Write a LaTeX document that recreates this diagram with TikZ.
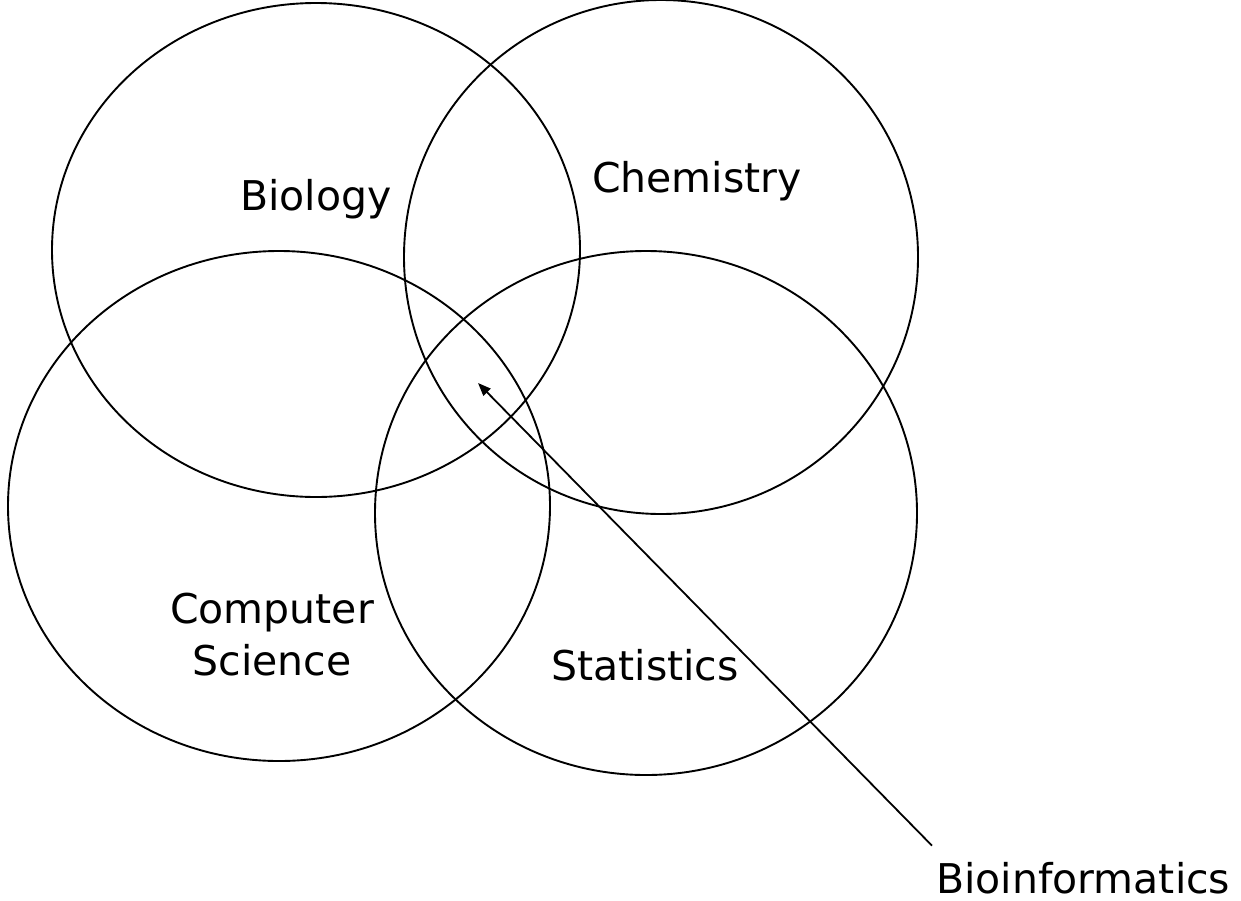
\documentclass[tikz,border=0pt]{standalone}
\usepackage{fontspec}
\setmainfont{DejaVu Sans}
\usepackage{tikz}
\usetikzlibrary{arrows.meta}

\begin{document}
\begin{tikzpicture}[x=1pt, y=-1pt,
    ring/.style={line width=1.9pt, black},
    lab/.style={font=\fontsize{41}{52}\selectfont, inner sep=0pt, text depth=0pt},
    pointer/.style={line width=1.8pt, -{Triangle[length=13pt, width=10pt]}}]
    \useasboundingbox (0,0) rectangle (1241,900);

    \draw[ring] (316,250) ellipse [x radius=264pt, y radius=247pt];
    \draw[ring] (661,257) ellipse [x radius=257pt, y radius=257pt];
    \draw[ring] (279,506) ellipse [x radius=271pt, y radius=255pt];
    \draw[ring] (646,513) ellipse [x radius=271pt, y radius=262pt];

    \node[lab, anchor=base] (bio) at (316,210) {Biology};
    \node[lab, anchor=base] (chem) at (697,192) {Chemistry};
    \node[lab, align=center] (cs) at (272,634) {Computer\\Science};
    \node[lab, anchor=base] (stat) at (645,680) {Statistics};
    \node[lab, anchor=base west] (bioinf) at (936,893) {Bioinformatics};

    \coordinate (core) at (478,383);
    \draw[pointer] ([shift={(-4,-16)}]bioinf.north west) -- (core);
\end{tikzpicture}
\end{document}
